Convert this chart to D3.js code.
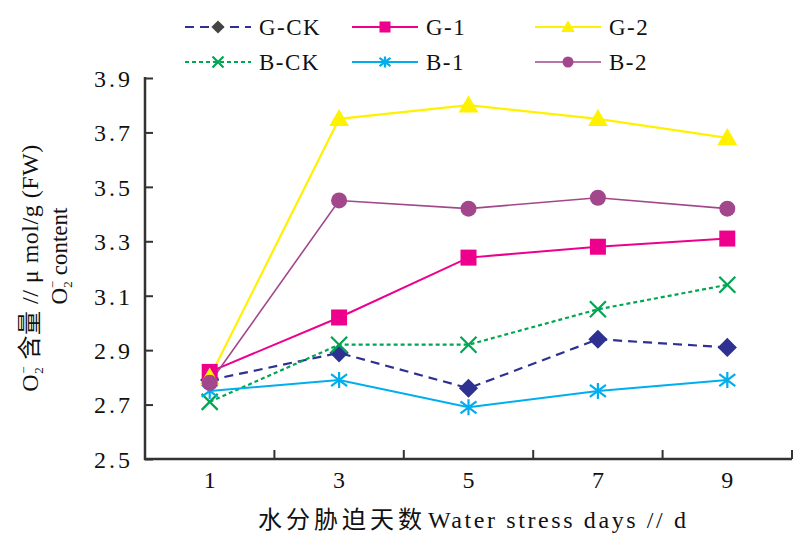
<!DOCTYPE html>
<html>
<head>
<meta charset="utf-8">
<script src="https://cdn.jsdelivr.net/npm/d3@7"></script>
<style>
  body { margin: 0; background: #fff; }
  svg text { font-family: "Liberation Serif", "Noto Sans CJK SC", serif; fill: #111; }
</style>
</head>
<body>
<div id="chart"></div>
<script>
// data
var days = [1, 3, 5, 7, 9];
var yTicks = [2.5, 2.7, 2.9, 3.1, 3.3, 3.5, 3.7, 3.9];
var gCK = [2.79, 2.89, 2.76, 2.94, 2.91];
var g1 = [2.82, 3.02, 3.24, 3.28, 3.31];
var g2 = [2.80, 3.75, 3.80, 3.75, 3.68];
var bCK = [2.71, 2.92, 2.92, 3.05, 3.14];
var b1 = [2.75, 2.79, 2.69, 2.75, 2.79];
var b2 = [2.78, 3.45, 3.42, 3.46, 3.42];

var series = [
  {name: 'G-CK', values: gCK, color: '#2E3192', dash: '9,6', width: 2.2, marker: 'diamond'},
  {name: 'G-1', values: g1, color: '#EC008C', dash: null, width: 2, marker: 'square'},
  {name: 'G-2', values: g2, color: '#FFF200', dash: null, width: 2.2, marker: 'triangle'},
  {name: 'B-CK', values: bCK, color: '#00A651', dash: '4,3', width: 2.2, marker: 'x'},
  {name: 'B-1', values: b1, color: '#00AEEF', dash: null, width: 2, marker: 'star'},
  {name: 'B-2', values: b2, color: '#A2478B', dash: null, width: 1.6, marker: 'circle'}
];

var W = 794, H = 538;
var svg = d3.select('#chart').append('svg').attr('width', W).attr('height', H);

var x = d3.scaleBand().domain(days).range([145, 792]);
var y = d3.scaleLinear().domain([2.5, 3.9]).range([459, 78]);

// axes
var yAxis = d3.axisLeft(y).tickValues(yTicks).tickSize(-8).tickPadding(12)
  .tickFormat(d3.format('.1f'));
var gy = svg.append('g').attr('transform', 'translate(145,0)').call(yAxis);
gy.select('.domain').remove();
gy.selectAll('line').attr('stroke', '#333').attr('stroke-width', 2);
gy.selectAll('text').style('font-size', '24px').style('letter-spacing', '3px').attr('dy', '0.35em');

svg.append('line').attr('x1', 145).attr('x2', 145).attr('y1', y(3.9) - 1).attr('y2', y(2.5) + 1)
  .attr('stroke', '#333').attr('stroke-width', 2.5);
svg.append('line').attr('x1', 144).attr('x2', 792).attr('y1', y(2.5)).attr('y2', y(2.5))
  .attr('stroke', '#333').attr('stroke-width', 2.5);

// boundary ticks between days
var edges = days.map(function (d) { return x(d); }).concat([x(days[days.length - 1]) + x.bandwidth()]);
svg.selectAll('.xtick').data(edges.slice(1)).enter().append('line')
  .attr('x1', function (d) { return d; }).attr('x2', function (d) { return d; })
  .attr('y1', y(2.5)).attr('y2', y(2.5) - 9)
  .attr('stroke', '#333').attr('stroke-width', 2);

var xAxis = d3.axisBottom(x).tickSize(0).tickPadding(12);
var gx = svg.append('g').attr('transform', 'translate(0,' + y(2.5) + ')').call(xAxis);
gx.select('.domain').remove();
gx.selectAll('text').style('font-size', '24px');

// axis titles
var xt = svg.append('text').attr('x', 258).attr('y', 528);
xt.append('tspan').style('font-family', '"Noto Sans CJK SC"').style('font-size', '24px')
  .style('letter-spacing', '4px').text('水分胁迫天数');
xt.append('tspan').attr('dx', 2).style('font-size', '24px').style('letter-spacing', '2.6px')
  .text('Water stress days // d');

var t1 = svg.append('text').attr('transform', 'translate(38,268) rotate(-90)')
  .attr('text-anchor', 'middle').style('font-size', '24px').style('letter-spacing', '0.5px');
t1.append('tspan').text('O');
t1.append('tspan').attr('dy', 5).style('font-size', '13px').text('2');
t1.append('tspan').attr('dy', -15).attr('dx', -7).style('font-size', '13px').text('−');
t1.append('tspan').attr('dy', 10).text(' 含量 // μ mol/g (FW)');

var t2 = svg.append('text').attr('transform', 'translate(67,256) rotate(-90)')
  .attr('text-anchor', 'middle').style('font-size', '23px');
t2.append('tspan').text('O');
t2.append('tspan').attr('dy', 5).style('font-size', '13px').text('2');
t2.append('tspan').attr('dy', -15).attr('dx', -7).style('font-size', '13px').text('−');
t2.append('tspan').attr('dy', 10).text(' content');

// markers
function drawMarker(g, type, color, s) {
  var a = s / 2;
  if (type === 'diamond') {
    a = s * 0.6;
    g.append('path').attr('d', 'M0,' + (-a) + 'L' + a + ',0L0,' + a + 'L' + (-a) + ',0Z').attr('fill', color);
  } else if (type === 'square') {
    g.append('rect').attr('x', -a).attr('y', -a).attr('width', s).attr('height', s).attr('fill', color);
  } else if (type === 'triangle') {
    g.append('path').attr('d', 'M0,' + (-s * 0.62) + 'L' + (s * 0.62) + ',' + (s * 0.45) + 'L' + (-s * 0.62) + ',' + (s * 0.45) + 'Z')
      .attr('fill', color);
  } else if (type === 'circle') {
    g.append('circle').attr('r', a).attr('fill', color);
  } else if (type === 'x') {
    g.append('path').attr('d', 'M' + (-a) + ',' + (-a) + 'L' + a + ',' + a + 'M' + (-a) + ',' + a + 'L' + a + ',' + (-a))
      .attr('stroke', color).attr('stroke-width', 2.2).attr('fill', 'none');
  } else if (type === 'star') {
    g.append('path').attr('d', 'M' + (-a) + ',' + (-a * 0.75) + 'L' + a + ',' + (a * 0.75) + 'M' + (-a) + ',' + (a * 0.75) + 'L' + a + ',' + (-a * 0.75) +
      'M0,' + (-a) + 'L0,' + a)
      .attr('stroke', color).attr('stroke-width', 2.2).attr('fill', 'none');
  }
}

var line = d3.line()
  .x(function (d, i) { return x(days[i]) + x.bandwidth() / 2; })
  .y(function (d) { return y(d); });

var plot = svg.append('g');
series.forEach(function (s) {
  plot.append('path').datum(s.values).attr('d', line)
    .attr('fill', 'none').attr('stroke', s.color).attr('stroke-width', s.width)
    .attr('stroke-dasharray', s.dash);
});
series.forEach(function (s) {
  s.values.forEach(function (v, i) {
    var g = plot.append('g')
      .attr('transform', 'translate(' + (x(days[i]) + x.bandwidth() / 2) + ',' + y(v) + ')');
    drawMarker(g, s.marker, s.color, 16);
  });
});

// legend
var legCols = [185, 352, 535];
var legRows = [27, 62];
series.forEach(function (s, i) {
  var cx = legCols[i % 3], cy = legRows[Math.floor(i / 3)];
  var g = svg.append('g').attr('transform', 'translate(' + cx + ',' + cy + ')');
  g.append('line').attr('x1', 0).attr('x2', 66).attr('y1', 0).attr('y2', 0)
    .attr('stroke', s.color).attr('stroke-width', s.width)
    .attr('stroke-dasharray', s.dash);
  var m = g.append('g').attr('transform', 'translate(33,0)');
  drawMarker(m, s.marker, i === 0 ? '#444' : s.color, 11);
  g.append('text').attr('x', 74).attr('y', 0).attr('dy', '0.35em')
    .style('font-size', '23px').style('letter-spacing', '1.5px').text(s.name);
});
</script>
</body>
</html>
